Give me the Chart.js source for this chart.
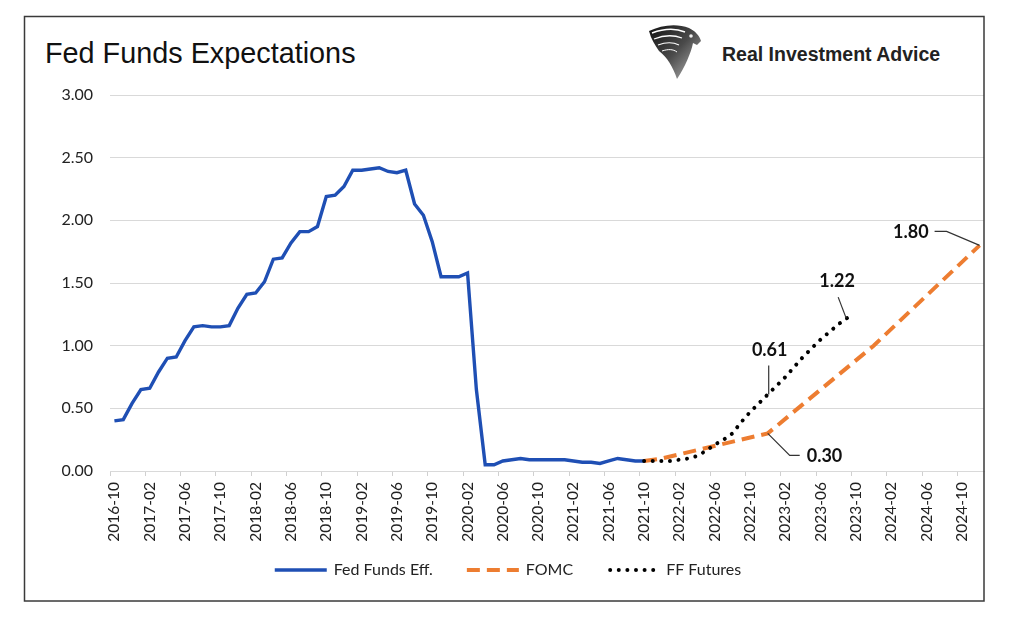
<!DOCTYPE html>
<html>
<head>
<meta charset="utf-8">
<title>Fed Funds Expectations</title>
<script src="https://cdn.jsdelivr.net/npm/chart.js@4.4.0/dist/chart.umd.min.js"></script>
<style>
  html, body { margin: 0; padding: 0; background: #fff; }
  #wrap { position: relative; width: 1024px; height: 626px; overflow: hidden; }
  #title { position: absolute; left: 45px; top: 39px; font: 28.8px/29px 'Liberation Sans', Arial, sans-serif; color: #111; white-space: nowrap; }
  #logo { position: absolute; left: 647px; top: 23px; width: 56px; height: 56px; }
  #brand { position: absolute; left: 722px; top: 44px; font: bold 19.5px/20px 'Liberation Sans', Arial, sans-serif; color: #222; white-space: nowrap; }
  #chart { position: absolute; left: 0; top: 0; }
</style>
</head>
<body>
<div id="wrap">
  <div id="title">Fed Funds Expectations</div>
  <svg id="logo" viewBox="0 0 56 56">
    <defs>
      <linearGradient id="eg" x1="0" y1="0" x2="1" y2="1">
        <stop offset="0" stop-color="#111"/>
        <stop offset="0.5" stop-color="#4a4a4a"/>
        <stop offset="1" stop-color="#bdbdbd"/>
      </linearGradient>
    </defs>
    <path d="M2 8 C14 2 30 0 42 5 C48 8 52 12 54 18 L50 22 L46 20 C44 30 38 44 30 56 C26 44 20 34 12 28 C8 22 4 16 2 8 Z" fill="url(#eg)"/>
    <path d="M5 10 C16 6 28 5 38 9" stroke="#fff" stroke-width="1.5" fill="none"/>
    <path d="M7 16 C17 12 27 12 35 15" stroke="#fff" stroke-width="1.3" fill="none"/>
    <path d="M11 22 C19 19 26 19 32 22" stroke="#fff" stroke-width="1.1" fill="none"/>
    <path d="M15 28 C21 26 26 26 30 29" stroke="#fff" stroke-width="1" fill="none"/>
    <circle cx="44" cy="13" r="1.8" fill="#eee"/>
  </svg>
  <div id="brand">Real Investment Advice</div>
  <canvas id="chart" width="1024" height="626"></canvas>
</div>
<script>
// monthly categories, 2016-10 .. 2024-12
const months = [];
for (let y = 2016; y <= 2024; y++) {
    for (let m = 1; m <= 12; m++) {
        if (y === 2016 && m < 10) continue;
        months.push(y + '-' + String(m).padStart(2, '0'));
    }
}
const tickEvery = 4;

// effective fed funds, monthly from 2016-10 to 2021-10
const fedEffStart = '2016-10';
const fedEffValues = [
    0.40, 0.41, 0.54,
    0.65, 0.66, 0.79, 0.90, 0.91, 1.04, 1.15, 1.16, 1.15, 1.15, 1.16, 1.30,
    1.41, 1.42, 1.51, 1.69, 1.70, 1.82, 1.91, 1.91, 1.95, 2.19, 2.20, 2.27,
    2.40, 2.40, 2.41, 2.42, 2.39, 2.38, 2.40, 2.13, 2.04, 1.83, 1.55, 1.55,
    1.55, 1.58, 0.65, 0.05, 0.05, 0.08, 0.09, 0.10, 0.09, 0.09, 0.09, 0.09,
    0.09, 0.08, 0.07, 0.07, 0.06, 0.08, 0.10, 0.09, 0.08, 0.08
];

// FOMC projections (line joins these points)
const fomcMonths = ['2021-10', '2021-12', '2022-12', '2023-12', '2024-12'];
const fomcValues = [0.08, 0.10, 0.30, 1.00, 1.80];

// fed funds futures, monthly from 2021-10 to 2023-09
const futuresStart = '2021-10';
const futuresValues = [
    0.08, 0.08, 0.08,
    0.08, 0.09, 0.10, 0.12, 0.16, 0.21, 0.25, 0.30, 0.39, 0.47, 0.54, 0.61,
    0.68, 0.75, 0.83, 0.91, 0.98, 1.05, 1.11, 1.17, 1.22
];

function placeRun(start, values) {
    const out = months.map(() => null);
    const s = months.indexOf(start);
    values.forEach((v, i) => { out[s + i] = v; });
    return out;
}
function placePoints(keys, values) {
    const out = months.map(() => null);
    keys.forEach((k, i) => { out[months.indexOf(k)] = values[i]; });
    return out;
}

const fedEff = placeRun(fedEffStart, fedEffValues);
const fomc = placePoints(fomcMonths, fomcValues);
const futures = placeRun(futuresStart, futuresValues);

// callouts: which point, and where the text and leader go relative to it
const callouts = [
    { ds: 1, month: '2022-12', text: '0.30', leader: [[0, 0], [22, 22], [32, 22]], at: [39, 23], align: 'left' },
    { ds: 2, month: '2022-12', text: '0.61', leader: [[1, 0], [1, -29]], at: [2, -44], align: 'center' },
    { ds: 2, month: '2023-09', text: '1.22', leader: [[-1, 0], [-9, -21]], at: [-10, -37], align: 'center' },
    { ds: 1, month: '2024-12', text: '1.80', leader: [[0, 0], [-33, -14], [-45, -14]], at: [-51, -13], align: 'right' }
];

const calloutPlugin = {
    id: 'callouts',
    afterDatasetsDraw(chart) {
        const c = chart.ctx;
        c.save();
        callouts.forEach(co => {
            const pt = chart.getDatasetMeta(co.ds).data[months.indexOf(co.month)];
            c.strokeStyle = '#333';
            c.lineWidth = 1.2;
            c.setLineDash([]);
            c.beginPath();
            co.leader.forEach((p, i) => {
                if (i === 0) c.moveTo(pt.x + p[0], pt.y + p[1]);
                else c.lineTo(pt.x + p[0], pt.y + p[1]);
            });
            c.stroke();
            c.fillStyle = '#111';
            c.font = 'bold 18px Lato, sans-serif';
            c.textAlign = co.align;
            c.textBaseline = 'middle';
            c.fillText(co.text, pt.x + co.at[0], pt.y + co.at[1]);
        });
        c.restore();
    }
};

// outer frame, right side sits on the plot edge like the original
const framePlugin = {
    id: 'frame',
    afterDraw(chart) {
        const c = chart.ctx;
        c.save();
        c.strokeStyle = '#3a3a3a';
        c.lineWidth = 1.5;
        c.strokeRect(24.5, 16.5, chart.chartArea.right - 24.5, 601 - 16.5);
        c.restore();
    }
};

// legend drawn by hand so the dash / dot samples show
const legendPlugin = {
    id: 'handLegend',
    afterDraw(chart) {
        const c = chart.ctx;
        const sample = 52, gapText = 7, gapItem = 34, y = 570;
        c.save();
        c.font = '16px Lato, sans-serif';
        const items = chart.data.datasets.map(ds => ({ ds, w: c.measureText(ds.label).width }));
        const total = items.reduce((s, it) => s + sample + gapText + it.w, 0) + gapItem * (items.length - 1);
        let x = 508 - total / 2;
        items.forEach(it => {
            const ds = it.ds;
            c.strokeStyle = ds.borderColor;
            c.lineWidth = ds.borderWidth;
            c.lineCap = ds.borderCapStyle || 'butt';
            c.setLineDash(ds.borderDash || []);
            c.beginPath();
            c.moveTo(x + (ds.borderCapStyle === 'round' ? 3 : 0), y);
            c.lineTo(x + sample, y);
            c.stroke();
            c.setLineDash([]);
            c.fillStyle = '#222';
            c.textAlign = 'left';
            c.textBaseline = 'middle';
            c.fillText(ds.label, x + sample + gapText, y);
            x += sample + gapText + it.w + gapItem;
        });
        c.restore();
    }
};

const ctx = document.getElementById('chart').getContext('2d');
new Chart(ctx, {
    type: 'line',
    data: {
        labels: months,
        datasets: [
            {
                label: 'Fed Funds Eff.',
                data: fedEff,
                borderColor: '#1F4FB4',
                borderWidth: 3.4,
                pointRadius: 0,
                tension: 0,
                order: 2
            },
            {
                label: 'FOMC',
                data: fomc,
                borderColor: '#ED7D31',
                borderWidth: 4,
                borderDash: [13, 7],
                pointRadius: 0,
                tension: 0,
                spanGaps: true,
                order: 1
            },
            {
                label: 'FF Futures',
                data: futures,
                borderColor: '#000',
                borderWidth: 4,
                borderDash: [0.01, 8.6],
                borderCapStyle: 'round',
                pointRadius: 0,
                tension: 0,
                order: 0
            }
        ]
    },
    options: {
        responsive: false,
        animation: false,
        layout: { padding: { left: 0, right: 40, top: 95, bottom: 83 } },
        plugins: {
            tooltip: { enabled: false },
            legend: { display: false }
        },
        scales: {
            x: {
                offset: true,
                afterFit: scale => { scale.height = 72; },
                border: { color: '#D9D9D9' },
                grid: {
                    offset: true,
                    drawOnChartArea: false,
                    drawTicks: true,
                    tickLength: 5,
                    color: c => (c.index % tickEvery === 0 ? '#D0D0D0' : 'transparent')
                },
                ticks: {
                    autoSkip: false,
                    minRotation: 90,
                    maxRotation: 90,
                    padding: 6,
                    color: '#222',
                    font: { family: 'Lato', size: 15.5 },
                    callback: (v, i) => (i % tickEvery === 0 ? months[i] : '')
                }
            },
            y: {
                min: 0,
                max: 3,
                afterFit: scale => { scale.width = 110; },
                border: { display: false },
                grid: { color: '#D9D9D9', drawTicks: false },
                ticks: {
                    stepSize: 0.5,
                    padding: 17,
                    color: '#222',
                    font: { family: 'Lato', size: 16 },
                    callback: v => v.toFixed(2)
                }
            }
        }
    },
    plugins: [calloutPlugin, framePlugin, legendPlugin]
});
</script>
</body>
</html>
